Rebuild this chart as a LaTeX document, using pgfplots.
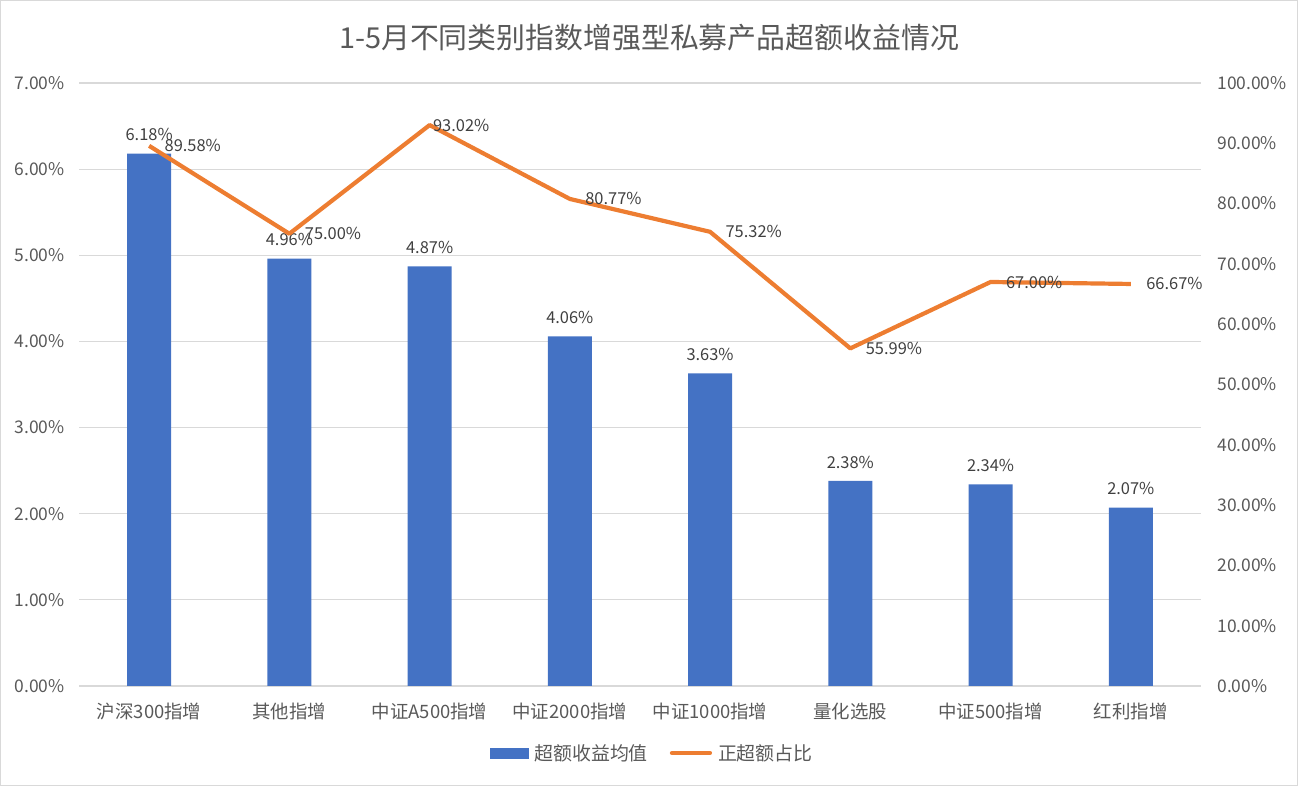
\documentclass[border=0pt]{standalone}
\usepackage{pgfplots}
\pgfplotsset{compat=1.18}
\usepackage{fontspec}
\setmainfont{Noto Sans CJK SC}
\definecolor{barblue}{HTML}{4472C4}
\definecolor{lineor}{HTML}{ED7D31}
\definecolor{txt}{HTML}{595959}
\definecolor{lbl}{HTML}{404040}
\definecolor{gridc}{HTML}{D9D9D9}
\begin{document}
\begin{tikzpicture}[x=1bp,y=1bp]
\draw[gridc, line width=1.2bp] (0.6,0.6) rectangle (1297.4,785.4);
\node[txt, font=\fontsize{29}{34}\selectfont] at (649,748) {1-5月不同类别指数增强型私募产品超额收益情况};
\begin{axis}[
  at={(79bp,100bp)}, anchor=south west, scale only axis,
  width=1122bp, height=603bp,
  xmin=-0.5, xmax=7.5, ymin=0, ymax=7,
  axis x line*=bottom, axis y line*=left,
  x axis line style={-, gridc, line width=1.2bp},
  y axis line style={draw=none},
  major tick length=0,
  ytick={0,1,...,7},
  yticklabel={\pgfmathprintnumber[fixed,fixed zerofill,precision=2]{\tick}\%},
  /pgf/number format/assume math mode=true,
  yticklabel style={font=\fontsize{17.5}{20}\selectfont, text=txt, xshift=-11bp},
  xtick={0,...,7},
  xticklabels={沪深300指增,其他指增,中证A500指增,中证2000指增,中证1000指增,量化选股,中证500指增,红利指增},
  xticklabel style={font=\fontsize{18.5}{22}\selectfont, text=txt, yshift=-13bp},
  ymajorgrids, grid style={gridc, line width=1.2bp},
  clip=false,
]
\addplot[ybar, bar width=44bp, fill=barblue, draw=none,
  nodes near coords={\pgfmathprintnumber[fixed,fixed zerofill,precision=2]{\pgfplotspointmeta}\%},
  nodes near coords style={font=\fontsize{16.5}{19}\selectfont, text=lbl, anchor=south, yshift=9bp}]
  coordinates {(0,6.18) (1,4.96) (2,4.87) (3,4.06) (4,3.63) (5,2.38) (6,2.34) (7,2.07)};
\end{axis}
\begin{axis}[
  at={(79bp,100bp)}, anchor=south west, scale only axis,
  width=1122bp, height=603bp,
  xmin=-0.5, xmax=7.5, ymin=0, ymax=100,
  axis x line=none, axis y line*=right,
  y axis line style={draw=none},
  major tick length=0,
  ytick={0,10,...,100},
  yticklabel={\pgfmathprintnumber[fixed,fixed zerofill,precision=2]{\tick}\%},
  /pgf/number format/assume math mode=true,
  yticklabel style={font=\fontsize{17.5}{20}\selectfont, text=txt, xshift=13bp},
  clip=false,
  legend style={at={(0.511,-0.111)}, anchor=center, draw=none, fill=none,
    legend columns=2, font=\fontsize{19}{22}\selectfont, text=txt,
    /tikz/every odd column/.append style={column sep=4bp},
    /tikz/every even column/.append style={column sep=20bp}},
  legend cell align=left,
]
\addlegendimage{legend image code/.code={\fill[barblue] (0bp,-5bp) rectangle (38bp,5bp);}}
\addlegendentry{超额收益均值}
\addplot[lineor, line width=4.2bp, line join=round, mark=none,
  legend image code/.code={\draw[lineor, line width=4.2bp, line cap=round] (0bp,0bp) -- (38bp,0bp);}]
  coordinates {(0,89.58) (1,75.00) (2,93.02) (3,80.77) (4,75.32) (5,55.99) (6,67.00) (7,66.67)};
\addlegendentry{正超额占比}
\addplot[draw=none, mark=none, forget plot,
  nodes near coords={\pgfmathprintnumber[fixed,fixed zerofill,precision=2]{\pgfplotspointmeta}\%},
  nodes near coords style={font=\fontsize{16.5}{19}\selectfont, text=lbl, anchor=west, xshift=12bp}]
  coordinates {(0,89.58) (1,75.00) (3,80.77) (4,75.32) (5,55.99) (6,67.00) (7,66.67)};
\addplot[draw=none, mark=none, forget plot,
  nodes near coords={\pgfmathprintnumber[fixed,fixed zerofill,precision=2]{\pgfplotspointmeta}\%},
  nodes near coords style={font=\fontsize{16.5}{19}\selectfont, text=lbl, anchor=west, xshift=0bp}]
  coordinates {(2,93.02)};
\end{axis}
\end{tikzpicture}
\end{document}
